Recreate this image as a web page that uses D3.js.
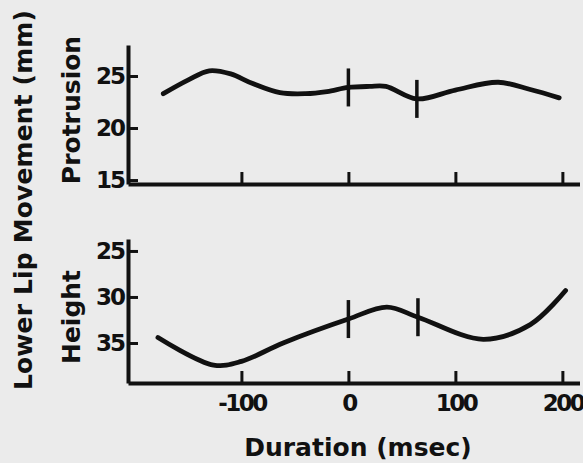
<!DOCTYPE html>
<html>
<head>
<meta charset="utf-8">
<script src="https://cdn.jsdelivr.net/npm/d3@7/dist/d3.min.js"></script>
<style>
  html, body { margin: 0; padding: 0; background: #ebebeb; }
  svg { display: block; }
  text { font-family: "DejaVu Sans", "Liberation Sans", sans-serif; font-weight: 700; fill: #111; }
</style>
</head>
<body>
<svg id="chart" width="583" height="463"></svg>
<script>
// Time (msec) relative to segment onset
const timeTicks = [-100, 0, 100, 200];

// Lower lip protrusion trajectory (mm)
const protrusionTime = [-173, -150, -130, -110, -90, -64, -40, -20, 0, 20, 35, 64, 100, 140, 170, 197];
const protrusionMM   = [23.3, 24.6, 25.5, 25.2, 24.3, 23.4, 23.3, 23.5, 23.9, 24.0, 24.0, 22.8, 23.65, 24.4, 23.7, 22.9];
const protrusionTicks = [15, 20, 25];

// Lower lip height trajectory (mm, larger values lower)
const heightTime = [-178, -126, -100, -61, 0, 36, 65, 126, 170, 203];
const heightMM   = [34.4, 37.4, 37.0, 35.0, 32.4, 31.1, 32.2, 34.6, 33.0, 29.3];
const heightTicks = [25, 30, 35];

// Segment boundaries marked on each trajectory (msec)
const protrusionMarks = [0, 64];
const heightMarks = [0, 65];

const ink = "#111";
const svg = d3.select("#chart");

const x = d3.scaleLinear().domain([-206, 216]).range([128, 579.5]);

const yTop = d3.scaleLinear().domain([14.62, 27.98]).range([184, 45]);
const yBot = d3.scaleLinear().domain([23.7, 39.35]).range([239, 383]);

function panel(yScale, times, values, yTicks, marks, showLabels) {
  const g = svg.append("g");
  const yBase = Math.max(...yScale.range());

  // x axis with inward ticks
  const xAxis = d3.axisBottom(x).tickValues(timeTicks).tickSizeInner(-12).tickSizeOuter(0)
    .tickPadding(12).tickFormat(showLabels ? (d => String(d)) : () => "");
  const gx = g.append("g").attr("transform", `translate(0,${yBase})`).call(xAxis);
  gx.select(".domain").attr("stroke", ink).attr("stroke-width", 4);
  gx.selectAll(".tick line").attr("stroke", ink).attr("stroke-width", 3);
  gx.selectAll(".tick text").attr("font-size", 23).attr("font-family", null).attr("fill", ink)
    .attr("letter-spacing", -2.5);

  // y axis with inward ticks
  const yAxis = d3.axisLeft(yScale).tickValues(yTicks).tickSizeInner(-10).tickSizeOuter(0).tickPadding(4);
  const gy = g.append("g").attr("transform", `translate(${x.range()[0]},0)`).call(yAxis);
  gy.select(".domain").attr("stroke", ink).attr("stroke-width", 4);
  gy.selectAll(".tick line").attr("stroke", ink).attr("stroke-width", 3);
  gy.selectAll(".tick text").attr("font-size", 23).attr("font-family", null).attr("fill", ink)
    .attr("letter-spacing", -2);

  // trajectory
  const pts = times.map((t, i) => [t, values[i]]);
  const line = d3.line().x(d => x(d[0])).y(d => yScale(d[1])).curve(d3.curveCatmullRom.alpha(0.5));
  g.append("path").datum(pts).attr("d", line)
    .attr("fill", "none").attr("stroke", ink).attr("stroke-width", 4.8)
    .attr("stroke-linecap", "round").attr("stroke-linejoin", "round");

  // boundary markers centred on the trajectory
  const valueAt = d3.scaleLinear().domain(times).range(values);
  g.selectAll(".mark").data(marks).join("line")
    .attr("x1", d => x(d)).attr("x2", d => x(d))
    .attr("y1", d => yScale(valueAt(d)) - 19)
    .attr("y2", d => yScale(valueAt(d)) + 19)
    .attr("stroke", ink).attr("stroke-width", 3.5);
}

panel(yTop, protrusionTime, protrusionMM, protrusionTicks, protrusionMarks, false);
panel(yBot, heightTime, heightMM, heightTicks, heightMarks, true);

// axis titles
svg.append("text")
  .attr("transform", "translate(32,200) rotate(-90)")
  .attr("text-anchor", "middle").attr("font-size", 25)
  .attr("textLength", 380).attr("lengthAdjust", "spacing")
  .text("Lower Lip Movement (mm)");

svg.append("text")
  .attr("transform", "translate(80,110) rotate(-90)")
  .attr("text-anchor", "middle").attr("font-size", 25)
  .text("Protrusion");

svg.append("text")
  .attr("transform", "translate(80,317) rotate(-90)")
  .attr("text-anchor", "middle").attr("font-size", 25)
  .text("Height");

svg.append("text")
  .attr("x", 358).attr("y", 456)
  .attr("text-anchor", "middle").attr("font-size", 25)
  .text("Duration (msec)");
</script>
</body>
</html>
